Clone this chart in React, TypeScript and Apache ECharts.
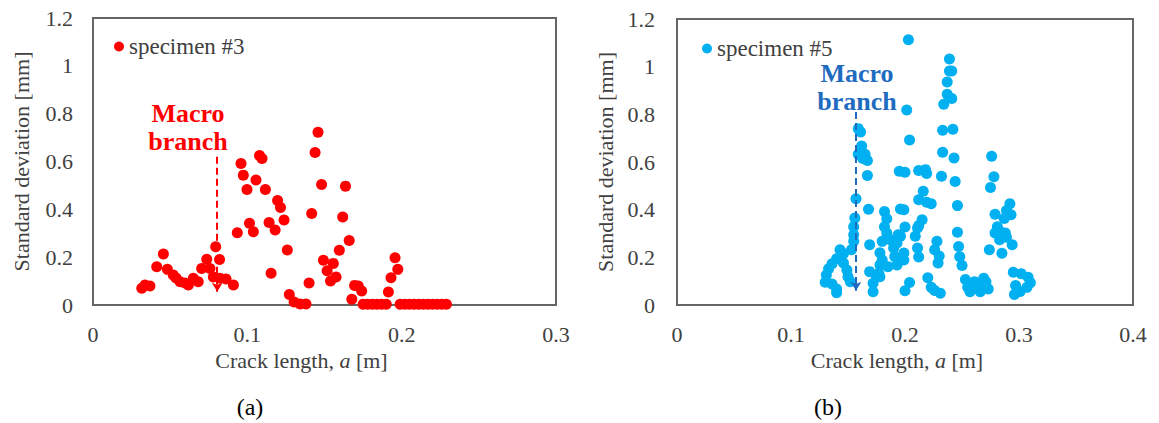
import React, { useEffect, useRef } from "react";
import * as echarts from "echarts";

// ---- data ----
const specimen3: number[][] = [
  [0.0316, 0.07], [0.0337, 0.084], [0.0369, 0.079], [0.0413, 0.16], [0.0456, 0.213],
  [0.0482, 0.149], [0.052, 0.125], [0.0538, 0.113], [0.0564, 0.097], [0.0596, 0.092],
  [0.0618, 0.084], [0.065, 0.112], [0.0682, 0.097], [0.0704, 0.153], [0.0737, 0.191],
  [0.0758, 0.153], [0.078, 0.117], [0.0795, 0.244], [0.082, 0.19], [0.0823, 0.112],
  [0.0862, 0.109], [0.091, 0.084], [0.0935, 0.302], [0.0959, 0.592], [0.0974, 0.543],
  [0.0998, 0.483], [0.1014, 0.342], [0.1039, 0.306], [0.1056, 0.523], [0.1079, 0.625],
  [0.1095, 0.613], [0.1117, 0.483], [0.1141, 0.345], [0.1154, 0.133], [0.118, 0.314],
  [0.1196, 0.437], [0.1215, 0.408], [0.1238, 0.355], [0.1259, 0.23], [0.1272, 0.044],
  [0.1303, 0.013], [0.1342, 0.004], [0.138, 0.004], [0.14, 0.092], [0.1417, 0.383],
  [0.1439, 0.638], [0.1458, 0.722], [0.1481, 0.504], [0.1493, 0.187], [0.1517, 0.143],
  [0.1539, 0.1], [0.1557, 0.174], [0.1575, 0.117], [0.1596, 0.229], [0.1618, 0.368],
  [0.1636, 0.497], [0.166, 0.27], [0.1677, 0.024], [0.1695, 0.082], [0.1719, 0.079],
  [0.1741, 0.059], [0.175, 0.003], [0.178, 0.003], [0.181, 0.003], [0.184, 0.003],
  [0.187, 0.003], [0.19, 0.003], [0.1914, 0.054], [0.1931, 0.114], [0.1957, 0.198],
  [0.1975, 0.149], [0.199, 0.003], [0.202, 0.003], [0.205, 0.003], [0.208, 0.003],
  [0.211, 0.003], [0.214, 0.003], [0.217, 0.003], [0.22, 0.003], [0.223, 0.003],
  [0.226, 0.003], [0.229, 0.003],
];

const specimen5: number[][] = [
  [0.13, 0.095], [0.131, 0.126], [0.133, 0.152], [0.136, 0.173], [0.14, 0.194],
  [0.143, 0.232], [0.146, 0.215], [0.136, 0.088], [0.14, 0.067], [0.14, 0.051],
  [0.146, 0.176], [0.149, 0.147], [0.15, 0.119], [0.152, 0.098], [0.153, 0.232],
  [0.155, 0.267], [0.155, 0.295], [0.155, 0.328], [0.156, 0.365], [0.157, 0.446],
  [0.159, 0.632], [0.159, 0.74], [0.161, 0.726], [0.162, 0.667], [0.163, 0.615],
  [0.165, 0.632], [0.167, 0.606], [0.167, 0.543], [0.168, 0.402], [0.169, 0.253],
  [0.169, 0.14], [0.175, 0.119], [0.172, 0.091], [0.172, 0.056],
  [0.182, 0.392], [0.184, 0.362], [0.182, 0.328], [0.184, 0.302], [0.18, 0.267],
  [0.178, 0.219], [0.18, 0.189], [0.178, 0.168], [0.185, 0.161], [0.177, 0.133],
  [0.178, 0.119], [0.187, 0.274], [0.19, 0.239], [0.191, 0.203], [0.193, 0.168],
  [0.193, 0.26], [0.194, 0.295], [0.195, 0.561], [0.196, 0.403], [0.2, 0.557],
  [0.199, 0.4], [0.2, 0.327], [0.196, 0.288], [0.199, 0.218], [0.199, 0.189],
  [0.2015, 0.818], [0.203, 1.113], [0.204, 0.692], [0.204, 0.094], [0.2, 0.06],
  [0.209, 0.288], [0.211, 0.239], [0.212, 0.201], [0.211, 0.323], [0.212, 0.333],
  [0.215, 0.358], [0.212, 0.442], [0.216, 0.477], [0.219, 0.431], [0.223, 0.425],
  [0.212, 0.564], [0.218, 0.568], [0.219, 0.552], [0.22, 0.114], [0.223, 0.074],
  [0.226, 0.061], [0.231, 0.049], [0.228, 0.267], [0.226, 0.232], [0.23, 0.206],
  [0.229, 0.176], [0.232, 0.54], [0.233, 0.641], [0.233, 0.733], [0.234, 0.842],
  [0.237, 0.884], [0.241, 0.866], [0.237, 0.936], [0.239, 0.982], [0.241, 0.982],
  [0.239, 1.032], [0.242, 0.737], [0.243, 0.617], [0.244, 0.518], [0.246, 0.417],
  [0.246, 0.305], [0.247, 0.245], [0.248, 0.202], [0.25, 0.166], [0.253, 0.107],
  [0.255, 0.074], [0.257, 0.056], [0.261, 0.098], [0.264, 0.076], [0.266, 0.056],
  [0.269, 0.112], [0.271, 0.098], [0.273, 0.067], [0.276, 0.624], [0.278, 0.538],
  [0.275, 0.493], [0.274, 0.232], [0.279, 0.381], [0.279, 0.302], [0.281, 0.328],
  [0.283, 0.309], [0.283, 0.274], [0.285, 0.217], [0.288, 0.302], [0.287, 0.363],
  [0.289, 0.396], [0.292, 0.425], [0.293, 0.379], [0.289, 0.284], [0.294, 0.253],
  [0.295, 0.137], [0.302, 0.131], [0.308, 0.116], [0.31, 0.093], [0.307, 0.074],
  [0.301, 0.057], [0.296, 0.044], [0.297, 0.082],
];

// macro branch markers: [x, yTop, yBottom]
const macroBranch3 = [0.0805, 0.62, 0.055];
const macroBranch5 = [0.157, 0.81, 0.06];

const xTicksA = [0, 0.1, 0.2, 0.3];
const xTicksB = [0, 0.1, 0.2, 0.3, 0.4];
const yTicks = [0, 0.2, 0.4, 0.6, 0.8, 1, 1.2];

const FONT = "Liberation Serif";
const RED = "#FF0000";
const BLUE = "#00B0F0";
const DARKBLUE = "#1F6BBF";
const TXT = "#404040";

export default function App() {
  const ref = useRef<HTMLDivElement>(null);
  useEffect(() => {
    if (!ref.current) return;
    const chart = echarts.init(ref.current, undefined, { renderer: "svg" });
    const fmt = (v: number) => String(+v.toFixed(1));
    const lbl = (margin: number) => ({
      fontFamily: FONT,
      fontSize: 22,
      color: TXT,
      margin,
      formatter: fmt,
    });
    const xName = (shift: number) => ({
      type: "value" as const,
      min: 0,
      interval: 0.1,
      nameLocation: "middle" as const,
      nameGap: 43,
      name: "{n|Crack length, }{i|a}{n| [m]}",
      nameTextStyle: {
        fontFamily: FONT,
        fontSize: 22,
        color: TXT,
        padding: [0, shift, 0, 0],
        rich: {
          n: { fontFamily: FONT, fontSize: 22, color: TXT },
          i: { fontStyle: "italic", fontFamily: FONT, fontSize: 22, color: TXT },
        },
      },
      axisLine: { show: false },
      axisTick: { show: false },
      splitLine: { show: false },
      axisLabel: lbl(18),
    });
    const yAxisCommon = {
      type: "value" as const,
      min: yTicks[0],
      max: yTicks[yTicks.length - 1],
      interval: 0.2,
      name: "Standard deviation [mm]",
      nameLocation: "middle" as const,
      nameGap: 61,
      nameTextStyle: { fontFamily: FONT, fontSize: 22, color: TXT },
      axisLine: { show: false },
      axisTick: { show: false },
      splitLine: { show: false },
    };
    chart.setOption({
      animation: false,
      backgroundColor: "#ffffff",
      textStyle: { fontFamily: FONT },
      grid: [
        { left: 93, top: 18, width: 463, height: 287, show: true, borderColor: "#666666", borderWidth: 2, backgroundColor: "transparent" },
        { left: 677, top: 19, width: 456, height: 286, show: true, borderColor: "#666666", borderWidth: 2, backgroundColor: "transparent" },
      ],
      xAxis: [
        { ...xName(46), gridIndex: 0, max: xTicksA[xTicksA.length - 1] },
        { ...xName(16), gridIndex: 1, max: xTicksB[xTicksB.length - 1] },
      ],
      yAxis: [
        { ...yAxisCommon, gridIndex: 0, axisLabel: lbl(20) },
        { ...yAxisCommon, gridIndex: 1, axisLabel: lbl(22) },
      ],
      legend: [
        {
          data: ["specimen #3"],
          left: 109,
          top: 30,
          itemWidth: 10,
          itemHeight: 10,
          itemGap: 4,
          icon: "circle",
          textStyle: { fontFamily: FONT, fontSize: 23, color: TXT },
        },
        {
          data: ["specimen #5"],
          left: 697,
          top: 32,
          itemWidth: 10,
          itemHeight: 10,
          icon: "circle",
          textStyle: { fontFamily: FONT, fontSize: 23, color: TXT },
        },
      ],
      series: [
        {
          name: "specimen #3",
          type: "scatter",
          xAxisIndex: 0,
          yAxisIndex: 0,
          symbol: "circle",
          symbolSize: 11,
          itemStyle: { color: RED, opacity: 1 },
          data: specimen3,
          markLine: {
            silent: true,
            symbol: ["none", "arrow"],
            symbolSize: [8, 9],
            label: { show: false },
            lineStyle: { type: [7, 4], color: RED, width: 2 },
            data: [[{ coord: [macroBranch3[0], macroBranch3[1]] }, { coord: [macroBranch3[0], macroBranch3[2]] }]],
          },
        },
        {
          name: "specimen #5",
          type: "scatter",
          xAxisIndex: 1,
          yAxisIndex: 1,
          symbol: "circle",
          symbolSize: 11,
          itemStyle: { color: BLUE, opacity: 1 },
          data: specimen5,
          markLine: {
            silent: true,
            symbol: ["none", "arrow"],
            symbolSize: [8, 9],
            label: { show: false },
            lineStyle: { type: [7, 4], color: DARKBLUE, width: 2 },
            data: [[{ coord: [macroBranch5[0], macroBranch5[1]] }, { coord: [macroBranch5[0], macroBranch5[2]] }]],
          },
        },
      ],
      graphic: [
        {
          type: "text",
          x: 188,
          y: 99,
          style: {
            text: "Macro\nbranch",
            fill: RED,
            fontFamily: FONT,
            fontSize: 26,
            fontWeight: "bold",
            textAlign: "center",
            lineHeight: 28,
          },
        },
        {
          type: "text",
          x: 857,
          y: 59,
          style: {
            text: "Macro\nbranch",
            fill: DARKBLUE,
            fontFamily: FONT,
            fontSize: 26,
            fontWeight: "bold",
            textAlign: "center",
            lineHeight: 28,
          },
        },
        {
          type: "text",
          x: 250,
          y: 395,
          style: { text: "(a)", fill: "#000", fontFamily: FONT, fontSize: 24, textAlign: "center" },
        },
        {
          type: "text",
          x: 828,
          y: 395,
          style: { text: "(b)", fill: "#000", fontFamily: FONT, fontSize: 24, textAlign: "center" },
        },
      ],
    });
    return () => chart.dispose();
  }, []);
  return (
    <div
      ref={ref}
      style={{ position: "fixed", left: 0, top: 0, width: 1159, height: 423, background: "#fff" }}
    />
  );
}
